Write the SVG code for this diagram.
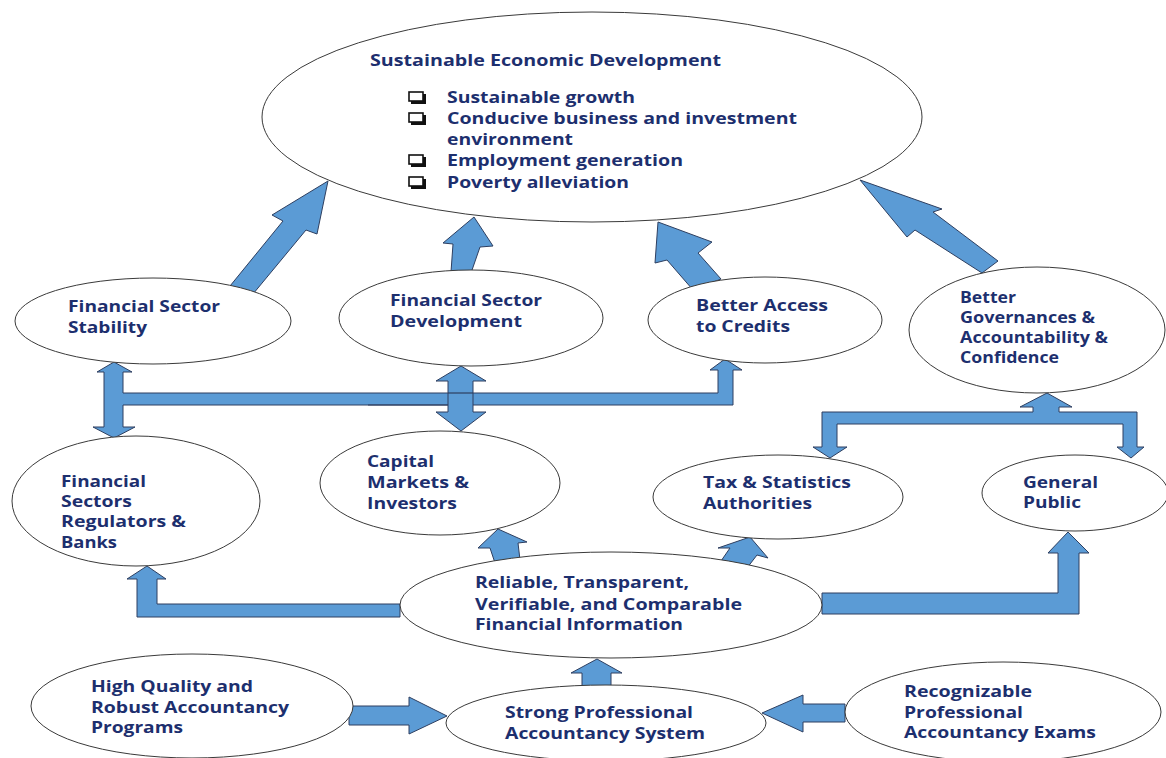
<svg xmlns="http://www.w3.org/2000/svg" width="1166" height="758" viewBox="0 0 1166 758">
<style>
.n{fill:#ffffff;stroke:#3a3a3a;stroke-width:1}
.t{font-family:"Open Sans","Liberation Sans",sans-serif;font-weight:bold;font-size:15.5px;fill:#1d2f6e}
.cb{fill:#ffffff;stroke:#111;stroke-width:1.6}
.cs{fill:#111}
.a{fill:#5b9bd5;stroke:#2e3f60;stroke-width:1;stroke-linejoin:miter}
.l{stroke:#2e3f60;stroke-width:1.2;fill:none}
</style>
<defs>
<g id="box">
<rect class="cs" x="2" y="2" width="15" height="10"/>
<rect class="cb" x="0" y="0" width="14" height="9"/>
</g>
</defs>
<rect width="1166" height="758" fill="#ffffff"/>
<g id="connectors">
<polygon class="a" points="328,181 272,215 283,221 230,286 253,294 306,230 317,234"/>
<polygon class="a" points="474,217 443,243 453,244 451,272 471,273 480,247 493,246"/>
<polygon class="a" points="658,222 655,263 667,260 693,290 721,279 698,253 712,242"/>
<polygon class="a" points="860,180 907,237 915,230 982,273 998,261 933,212 942,209"/>
<polygon class="a" points="114,362 132,372 123,372 123,393 718,393 718,370 710,370 725,359 742,370 733,370 733,405 123,405 123,427 135,427 114,438 93,427 104,427 104,372 97,372"/>
<polygon class="a" points="461,366 486,381 473,381 473,412 486,412 461,431 436,412 448,412 448,381 436,381"/>
<line class="l" x1="368" y1="405" x2="448" y2="405"/>
<line class="l" x1="448" y1="393" x2="473" y2="393"/>
<polygon class="a" points="822,412 1033,412 1033,407 1020,407 1047,393 1072,407 1059,407 1059,412 1137,412 1137,447 1144,447 1131,458 1117,447 1123,447 1123,424 837,424 837,447 847,447 830,458 813,447 822,447"/>
<polygon class="a" points="147,566 166,579 157,579 157,604 400,604 400,617 137,617 137,579 127,579"/>
<polygon class="a" points="498,529 527,542 518,543 520,560 495,563 490,548 478,548"/>
<polygon class="a" points="750,537 768,558 757,555 747,568 721,561 730,548 718,548"/>
<polygon class="a" points="1068,532 1089,553 1079,553 1079,614 822,614 822,593 1058,593 1058,553 1048,553"/>
<polygon class="a" points="597,659 622,673 611,673 611,688 582,688 582,673 571,673"/>
<polygon class="a" points="349,706 409,706 409,697 447,716 409,734 409,725 349,725"/>
<polygon class="a" points="762,713 803,695 803,704 845,704 845,722 803,722 803,732"/>
</g>
<g id="sed">
<ellipse class="n" cx="592" cy="117" rx="330" ry="105"/>
<text class="t" x="370" y="66" textLength="351" lengthAdjust="spacingAndGlyphs">Sustainable Economic Development</text>
<use href="#box" x="409" y="92"/>
<use href="#box" x="409" y="113"/>
<use href="#box" x="409" y="155"/>
<use href="#box" x="409" y="177"/>
<text class="t" x="447" y="103" textLength="188" lengthAdjust="spacingAndGlyphs">Sustainable growth</text>
<text class="t" x="447" y="124" textLength="350" lengthAdjust="spacingAndGlyphs">Conducive business and investment</text>
<text class="t" x="447" y="145" textLength="126" lengthAdjust="spacingAndGlyphs">environment</text>
<text class="t" x="447" y="166" textLength="236" lengthAdjust="spacingAndGlyphs">Employment generation</text>
<text class="t" x="447" y="188" textLength="182" lengthAdjust="spacingAndGlyphs">Poverty alleviation</text>
</g>
<g id="fss">
<ellipse class="n" cx="153" cy="321" rx="138" ry="43"/>
<text class="t" x="68" y="312" textLength="152" lengthAdjust="spacingAndGlyphs">Financial Sector</text>
<text class="t" x="68" y="333" textLength="79" lengthAdjust="spacingAndGlyphs">Stability</text>
</g>
<g id="fsd">
<ellipse class="n" cx="471" cy="318" rx="132" ry="48"/>
<text class="t" x="390" y="306" textLength="152" lengthAdjust="spacingAndGlyphs">Financial Sector</text>
<text class="t" x="390" y="327" textLength="132" lengthAdjust="spacingAndGlyphs">Development</text>
</g>
<g id="bac">
<ellipse class="n" cx="765" cy="320" rx="117" ry="43"/>
<text class="t" x="696" y="311" textLength="132" lengthAdjust="spacingAndGlyphs">Better Access</text>
<text class="t" x="696" y="332" textLength="94" lengthAdjust="spacingAndGlyphs">to Credits</text>
</g>
<g id="bga">
<ellipse class="n" cx="1037" cy="330" rx="128" ry="63"/>
<text class="t" x="960" y="303" textLength="56" lengthAdjust="spacingAndGlyphs">Better</text>
<text class="t" x="960" y="323" textLength="135" lengthAdjust="spacingAndGlyphs">Governances &amp;</text>
<text class="t" x="960" y="343" textLength="148" lengthAdjust="spacingAndGlyphs">Accountability &amp;</text>
<text class="t" x="960" y="363" textLength="99" lengthAdjust="spacingAndGlyphs">Confidence</text>
</g>
<g id="fsrb">
<ellipse class="n" cx="136" cy="501" rx="124" ry="65"/>
<text class="t" x="61" y="487" textLength="85" lengthAdjust="spacingAndGlyphs">Financial</text>
<text class="t" x="61" y="507" textLength="71" lengthAdjust="spacingAndGlyphs">Sectors</text>
<text class="t" x="61" y="527" textLength="125" lengthAdjust="spacingAndGlyphs">Regulators &amp;</text>
<text class="t" x="61" y="548" textLength="56" lengthAdjust="spacingAndGlyphs">Banks</text>
</g>
<g id="cmi">
<ellipse class="n" cx="440" cy="483" rx="120" ry="52"/>
<text class="t" x="367" y="467" textLength="67" lengthAdjust="spacingAndGlyphs">Capital</text>
<text class="t" x="367" y="488" textLength="102" lengthAdjust="spacingAndGlyphs">Markets &amp;</text>
<text class="t" x="367" y="509" textLength="90" lengthAdjust="spacingAndGlyphs">Investors</text>
</g>
<g id="tsa">
<ellipse class="n" cx="778" cy="497" rx="125" ry="42"/>
<text class="t" x="703" y="488" textLength="148" lengthAdjust="spacingAndGlyphs">Tax &amp; Statistics</text>
<text class="t" x="703" y="509" textLength="109" lengthAdjust="spacingAndGlyphs">Authorities</text>
</g>
<g id="gp">
<ellipse class="n" cx="1075" cy="493" rx="93" ry="38"/>
<text class="t" x="1023" y="488" textLength="75" lengthAdjust="spacingAndGlyphs">General</text>
<text class="t" x="1023" y="508" textLength="58" lengthAdjust="spacingAndGlyphs">Public</text>
</g>
<g id="rtv">
<ellipse class="n" cx="611" cy="605" rx="211" ry="53"/>
<text class="t" x="475" y="588" textLength="214" lengthAdjust="spacingAndGlyphs">Reliable, Transparent,</text>
<text class="t" x="475" y="610" textLength="267" lengthAdjust="spacingAndGlyphs">Verifiable, and Comparable</text>
<text class="t" x="475" y="630" textLength="208" lengthAdjust="spacingAndGlyphs">Financial Information</text>
</g>
<g id="spas">
<ellipse class="n" cx="606" cy="723" rx="160" ry="38"/>
<text class="t" x="505" y="718" textLength="188" lengthAdjust="spacingAndGlyphs">Strong Professional</text>
<text class="t" x="505" y="739" textLength="200" lengthAdjust="spacingAndGlyphs">Accountancy System</text>
</g>
<g id="hqra">
<ellipse class="n" cx="192" cy="706" rx="161" ry="52"/>
<text class="t" x="91" y="692" textLength="162" lengthAdjust="spacingAndGlyphs">High Quality and</text>
<text class="t" x="91" y="713" textLength="198" lengthAdjust="spacingAndGlyphs">Robust Accountancy</text>
<text class="t" x="91" y="733" textLength="92" lengthAdjust="spacingAndGlyphs">Programs</text>
</g>
<g id="rpae">
<ellipse class="n" cx="1003" cy="712" rx="158" ry="50"/>
<text class="t" x="904" y="697" textLength="128" lengthAdjust="spacingAndGlyphs">Recognizable</text>
<text class="t" x="904" y="718" textLength="119" lengthAdjust="spacingAndGlyphs">Professional</text>
<text class="t" x="904" y="738" textLength="192" lengthAdjust="spacingAndGlyphs">Accountancy Exams</text>
</g>
</svg>
